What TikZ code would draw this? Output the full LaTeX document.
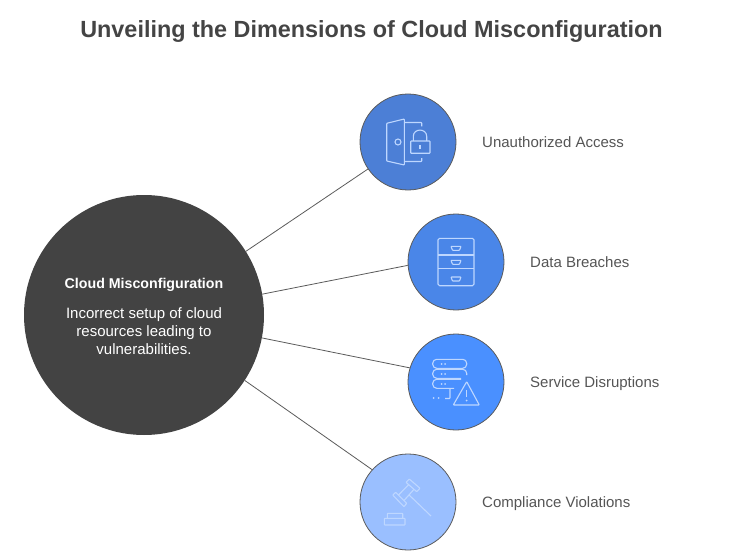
\documentclass[tikz,border=0pt]{standalone}
\usepackage{fontspec}
\setmainfont{Liberation Sans}
\definecolor{myTitleGray}{RGB}{68,68,68}
\definecolor{myLabelGray}{RGB}{85,85,85}
\definecolor{myCoreGray}{RGB}{67,67,67}
\definecolor{myEdgeGray}{RGB}{90,90,90}
\definecolor{myIconBlue}{RGB}{190,215,255}
\definecolor{myAccessBlue}{RGB}{76,127,214}
\definecolor{myBreachBlue}{RGB}{74,134,232}
\definecolor{myServiceBlue}{RGB}{74,144,255}
\definecolor{myComplianceBlue}{RGB}{154,191,255}

\begin{document}
\begin{tikzpicture}[x=1pt,y=-1pt,
    hub/.style={circle,draw=myEdgeGray,line width=.8pt,minimum size=96pt,inner sep=0pt},
    label/.style={anchor=base west,inner sep=0pt,text=myLabelGray,font=\fontsize{15}{18}\selectfont},
    link/.style={draw=myEdgeGray,line width=.8pt},
    icon/.style={draw=myIconBlue,line width=1.1pt,line join=round,rounded corners=.6pt}]
    \useasboundingbox (0,0) rectangle (732,551);
    \node[anchor=center,text=myTitleGray,font=\fontsize{23.4}{28}\bfseries\selectfont] (title) at (371.5,32) {Unveiling the Dimensions of Cloud Misconfiguration};
    % centre and the four topics
    \node[circle,fill=myCoreGray,minimum size=240pt,inner sep=0pt,align=center,text=white,font=\fontsize{15}{18}\selectfont] (core) at (144,315) {{\fontsize{14.2}{18}\selectfont\bfseries\rule{0pt}{12.5pt}Cloud Misconfiguration}\\[12pt]Incorrect setup of cloud\\resources leading to\\vulnerabilities.};
    \node[hub,fill=myAccessBlue] (access) at (408,142) {};
    \node[hub,fill=myBreachBlue] (breach) at (456,262) {};
    \node[hub,fill=myServiceBlue] (service) at (456,382) {};
    \node[hub,fill=myComplianceBlue] (comply) at (408,502) {};
    \draw[link] (core.32.8) -- (access.214);
    \draw[link] (core.10.6) -- (breach.184.4);
    \draw[link] (core.-11.6) -- (service.163.6);
    \draw[link] (core.-33.6) -- (comply.138);
    \node[label] (accesstext) at (482,147) {Unauthorized Access};
    \node[label] (breachtext) at (530,267) {Data Breaches};
    \node[label] (servicetext) at (530,387) {Service Disruptions};
    \node[label] (complytext) at (482,507) {Compliance Violations};
    % door and padlock
    \begin{scope}[shift={(408,142)}]
        \draw[icon] (-21.3,-18.7) -- (-3.7,-23) -- (-3.7,23) -- (-21.3,19) -- cycle;
        \draw[icon] (-10,0) circle (3);
        \draw[icon] (-3.7,-19.5) -- (13.7,-19.5) -- (13.7,-15.5);
        \draw[icon] (-3.7,19.5) -- (13.7,19.5) -- (13.7,16);
        \draw[icon] (2.7,-1) rectangle (22,11.3);
        \draw[icon] (5.3,-1) -- (5.3,-5) .. controls (5.3,-14) and (18.7,-14) .. (18.7,-5) -- (18.7,-1);
        \draw[icon] (12,3) -- (12,7);
    \end{scope}
    % cabinet
    \begin{scope}[shift={(456,262)}]
        \draw[icon,rounded corners=1.5pt] (-18,-23.7) rectangle (18,23.7);
        \draw[icon] (-18,-7) -- (18,-7);
        \draw[icon] (-18,6.3) -- (18,6.3);
        \foreach \y in {-13.7,0.3,17}{
            \draw[icon] (-5,\y-2) -- (5,\y-2) -- (3.5,\y+2) -- (-3.5,\y+2) -- cycle;
        }
    \end{scope}
    % servers with warning sign
    \begin{scope}[shift={(456,382)}]
        \draw[icon,rounded corners=4pt] (5,-13.7) -- (-23.3,-13.7) -- (-23.3,-22.7) -- (10.7,-22.7) -- (10.7,-13.7) -- (5,-13.7);
        \draw[icon,rounded corners=4pt] (5,-3.7) -- (-23.3,-3.7) -- (-23.3,-12.7) -- (10.7,-12.7) -- (10.7,-7);
        \draw[icon,rounded corners=4pt] (-2,6.3) -- (-23.3,6.3) -- (-23.3,-2.7) -- (5,-2.7);
        \foreach \y in {-18,-8,2}{
            \fill[myIconBlue] (-14.5,\y) circle (1) (-11,\y) circle (1);
        }
        \fill[myIconBlue] (-22.5,16) circle (1) (-17.5,16) circle (1);
        \draw[icon] (-11,16.5) -- (-6,16.5) -- (-6,7);
        \draw[icon] (10.7,-.3) -- (-2.7,23) -- (23.3,23) -- cycle;
        \draw[icon] (10.7,8) -- (10.7,15);
        \fill[myIconBlue] (10.7,18.5) circle (1);
    \end{scope}
    % gavel
    \begin{scope}[shift={(408,502)}]
        \draw[icon] (-15.3,-7) -- (-12.3,-9.7) -- (-1.3,1.3) -- (-4,4.7) -- cycle;
        \draw[icon] (-2,-19.7) -- (1.3,-23) -- (12,-13.7) -- (8.7,-10.3) -- cycle;
        \draw[icon] (-9.5,-7) -- (0.7,-17.3);
        \draw[icon] (-4,-1.5) -- (6,-12.7);
        \draw[icon] (1,-7.1) -- (23,14);
        \draw[icon] (-23.7,16.3) rectangle (-3,23);
        \draw[icon] (-20.7,16.3) -- (-20.7,11.3) -- (-5.3,11.3) -- (-5.3,16.3);
    \end{scope}
\end{tikzpicture}
\end{document}
